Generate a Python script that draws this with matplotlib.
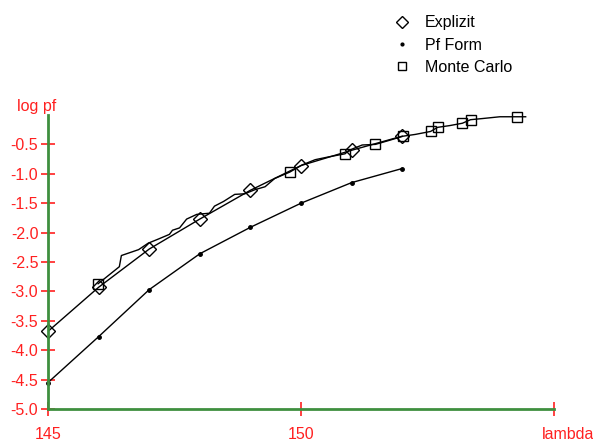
import matplotlib.pyplot as plt
from matplotlib.lines import Line2D

# Explizit (diamonds)
expl_x = [145, 146, 147, 148, 149, 150, 151, 152]
expl_y = [-3.68, -2.93, -2.28, -1.77, -1.28, -0.86, -0.60, -0.36]

# Pf Form (dots)
form_x = [145, 146, 147, 148, 149, 150, 151, 152]
form_y = [-4.55, -3.77, -2.97, -2.36, -1.91, -1.50, -1.15, -0.91]

# Monte Carlo curve
mc_line_x = [145.99, 146.41, 146.45, 146.79, 146.98, 147.18, 147.40, 147.46,
             147.60, 147.74, 147.94, 148.19, 148.29, 148.47, 148.69, 148.89,
             149.09, 149.29, 149.48, 149.78, 150.02, 150.28, 150.56, 150.87,
             150.95, 151.21, 151.47, 151.75, 152.02, 152.26, 152.56, 152.70,
             152.94, 153.19, 153.35, 153.59, 153.93, 154.27, 154.44]
mc_line_y = [-2.87, -2.58, -2.39, -2.29, -2.18, -2.11, -2.03, -1.96,
             -1.92, -1.77, -1.69, -1.67, -1.55, -1.47, -1.35, -1.34,
             -1.27, -1.22, -1.08, -0.97, -0.85, -0.76, -0.71, -0.66,
             -0.60, -0.51, -0.50, -0.43, -0.36, -0.33, -0.28, -0.21,
             -0.18, -0.14, -0.08, -0.06, -0.03, -0.03, -0.03]

# Monte Carlo marked points (squares)
mc_x = [145.99, 149.78, 150.87, 151.47, 152.02, 152.56, 152.70, 153.19, 153.35, 154.27]
mc_y = [-2.87, -0.97, -0.66, -0.50, -0.36, -0.28, -0.21, -0.14, -0.08, -0.03]

y_ticks = [-5.0, -4.5, -4.0, -3.5, -3.0, -2.5, -2.0, -1.5, -1.0, -0.5]
x_ticks = [145, 150, 155]
x_labels = ["145", "150", ""]

plt.rcParams['font.family'] = ['Liberation Sans', 'DejaVu Sans']
fs = 11.5
green = '#3f8f3f'
red = '#ff2020'

fig = plt.figure(figsize=(5.93, 4.44), dpi=100)
ax = fig.add_axes([48 / 593, 35 / 444, 506 / 593, 294 / 444])

ax.plot(expl_x, expl_y, color='black', lw=1)
ax.plot(expl_x, expl_y, ls='none', marker='D', ms=7.5, mfc='none', mec='black',
        mew=1, clip_on=False)
ax.plot(form_x, form_y, color='black', lw=1, marker='o', ms=2.5, clip_on=False)
ax.plot(mc_line_x, mc_line_y, color='black', lw=1)
ax.plot(mc_x, mc_y, ls='none', marker='s', ms=6.5, mfc='none', mec='black',
        mew=1, clip_on=False)

ax.set_xlim(145, 155)
ax.set_ylim(-5, 0)
ax.spines['top'].set_visible(False)
ax.spines['right'].set_visible(False)
for s in ['left', 'bottom']:
    ax.spines[s].set_color(green)
    ax.spines[s].set_linewidth(2)

ax.set_yticks(y_ticks)
ax.set_yticklabels(["%.1f" % v for v in y_ticks])
ax.set_xticks(x_ticks)
ax.set_xticklabels(x_labels)
ax.tick_params(direction='inout', length=10, width=1.2, colors=red,
               labelsize=fs, labelcolor=red)
ax.tick_params(axis='y', pad=2)
ax.tick_params(axis='x', pad=8)

ax.annotate("log pf", xy=(145, 0), xytext=(-8, 6), textcoords='offset points',
            color=red, fontsize=fs, ha='center', va='center', annotation_clip=False)
ax.annotate("lambda", xy=(155, -5), xytext=(-9, -13), textcoords='offset points',
            color=red, fontsize=fs, ha='left', va='top', annotation_clip=False)

handles = [
    Line2D([], [], ls='none', marker='D', ms=6.5, mfc='white', mec='black'),
    Line2D([], [], ls='none', marker='o', ms=2, color='black'),
    Line2D([], [], ls='none', marker='s', ms=5.5, mfc='white', mec='black'),
]
fig.legend(handles, ["Explizit", "Pf Form", "Monte Carlo"], loc='upper left',
           bbox_to_anchor=(380 / 593, 1 - 1 / 444), frameon=False, fontsize=fs,
           handlelength=1, handletextpad=0.9, labelspacing=0.45)

fig.savefig("out.png", dpi=100)
